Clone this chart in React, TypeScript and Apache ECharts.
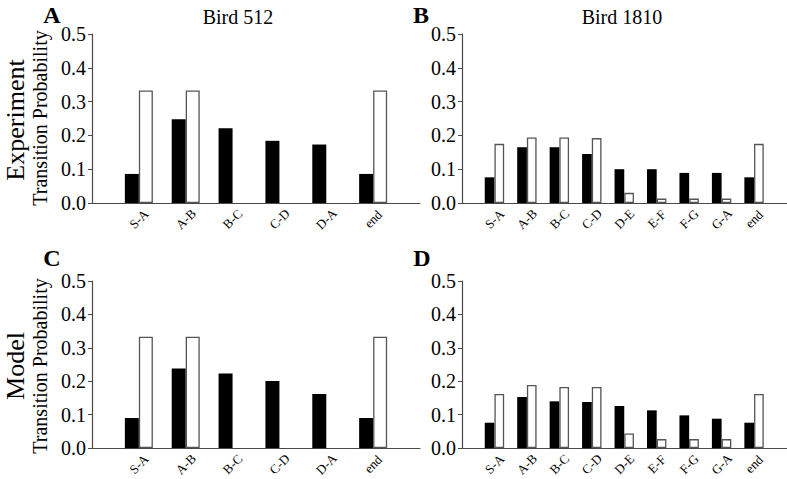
import React, { useEffect, useRef } from "react";
import * as echarts from "echarts";

const catsShort = ["S-A", "A-B", "B-C", "C-D", "D-A", "end"];
const catsLong = ["S-A", "A-B", "B-C", "C-D", "D-E", "E-F", "F-G", "G-A", "end"];
const yTicks = [0, 0.1, 0.2, 0.3, 0.4, 0.5];

const expA_black = [0.086, 0.248, 0.221, 0.184, 0.173, 0.086];
const expA_white = [0.333, 0.333, 0, 0, 0, 0.333];
const expB_black = [0.076, 0.165, 0.165, 0.145, 0.1, 0.1, 0.089, 0.089, 0.076];
const expB_white = [0.175, 0.194, 0.194, 0.192, 0.03, 0.013, 0.013, 0.013, 0.175];
const modC_black = [0.09, 0.238, 0.223, 0.201, 0.162, 0.09];
const modC_white = [0.333, 0.333, 0, 0, 0, 0.333];
const modD_black = [0.076, 0.153, 0.14, 0.138, 0.126, 0.113, 0.098, 0.088, 0.076];
const modD_white = [0.162, 0.189, 0.183, 0.183, 0.044, 0.027, 0.027, 0.027, 0.162];

const FONT = "Liberation Serif";
const AXIS_COLOR = "#4a4a4a";

export default function App() {
  const ref = useRef<HTMLDivElement>(null);
  useEffect(() => {
    if (!ref.current) return;
    const chart = echarts.init(ref.current, null, { renderer: "svg" });

    const grids = [
      { left: 92, top: 34, width: 328, height: 169 },
      { left: 462, top: 34, width: 324.5, height: 169 },
      { left: 92, top: 281, width: 328, height: 168.5 },
      { left: 462, top: 281, width: 324.5, height: 168.5 },
    ];
    const panelCats = [catsShort, catsLong, catsShort, catsLong];
    const blacks = [expA_black, expB_black, modC_black, modD_black];
    const whites = [expA_white, expB_white, modC_white, modD_white];
    const barW = [14, 9.7, 14, 9.7];

    const xAxis = panelCats.map((cats, i) => ({
      type: "value",
      gridIndex: i,
      min: 0,
      max: cats.length + 1,
      axisLine: { show: true, onZero: false, lineStyle: { color: AXIS_COLOR, width: 1.2 } },
      axisTick: { show: false },
      splitLine: { show: false },
      axisLabel: {
        customValues: cats.map((_, k) => k + 1),
        formatter: (v: number) => cats[Math.round(v) - 1] ?? "",
        rotate: 45,
        align: "center",
        verticalAlign: "middle",
        margin: 16,
        fontSize: 13,
        fontFamily: FONT,
        color: "#000",
      },
    }));

    const yAxis = panelCats.map((_, i) => ({
      type: "value",
      gridIndex: i,
      min: yTicks[0],
      max: yTicks[yTicks.length - 1],
      interval: 0.1,
      axisLine: { show: true, lineStyle: { color: AXIS_COLOR, width: 1.2 } },
      axisTick: { show: true, length: 4, inside: false, lineStyle: { color: AXIS_COLOR } },
      splitLine: { show: false },
      axisLabel: {
        formatter: (v: number) => v.toFixed(1),
        margin: 6,
        fontSize: 20,
        fontFamily: FONT,
        color: "#000",
      },
    }));

    const series: any[] = [];
    panelCats.forEach((cats, i) => {
      series.push({
        type: "bar",
        name: "Observed",
        xAxisIndex: i,
        yAxisIndex: i,
        barWidth: barW[i],
        barGap: "0%",
        data: cats.map((_, k) => [k + 1, blacks[i][k]]),
        itemStyle: { color: "#000", borderColor: "#000", borderWidth: 0 },
      });
      series.push({
        type: "bar",
        name: "Reference",
        xAxisIndex: i,
        yAxisIndex: i,
        barWidth: barW[i],
        barGap: "0%",
        data: cats.map((_, k) => [k + 1, whites[i][k] > 0 ? whites[i][k] : "-"]),
        itemStyle: { color: "#fff", borderColor: "#555", borderWidth: 1.3 },
      });
    });

    const txt = (text: string, x: number, y: number, size: number, opts: any = {}) => ({
      type: "text",
      x,
      y,
      rotation: opts.rotation || 0,
      style: {
        text,
        fontSize: size,
        fontFamily: FONT,
        fontWeight: opts.bold ? "bold" : "normal",
        fill: "#000",
        textAlign: "center",
        textVerticalAlign: "middle",
      },
    });

    chart.setOption({
      animation: false,
      backgroundColor: "#fff",
      grid: grids,
      xAxis,
      yAxis,
      series,
      graphic: [
        txt("A", 52, 15, 24, { bold: true }),
        txt("B", 421, 15, 24, { bold: true }),
        txt("C", 52, 258, 24, { bold: true }),
        txt("D", 422, 258, 24, { bold: true }),
        txt("Bird 512", 238, 17, 20),
        txt("Bird 1810", 622, 17, 20),
        txt("Experiment", 15, 120, 26, { rotation: Math.PI / 2 }),
        txt("Transition Probability", 40, 118, 20, { rotation: Math.PI / 2 }),
        txt("Model", 15, 366, 26, { rotation: Math.PI / 2 }),
        txt("Transition Probability", 40, 366, 20, { rotation: Math.PI / 2 }),
      ],
    });
    return () => chart.dispose();
  }, []);
  return (
    <div
      ref={ref}
      style={{ position: "fixed", left: 0, top: 0, width: 787, height: 479, background: "#fff" }}
    />
  );
}
